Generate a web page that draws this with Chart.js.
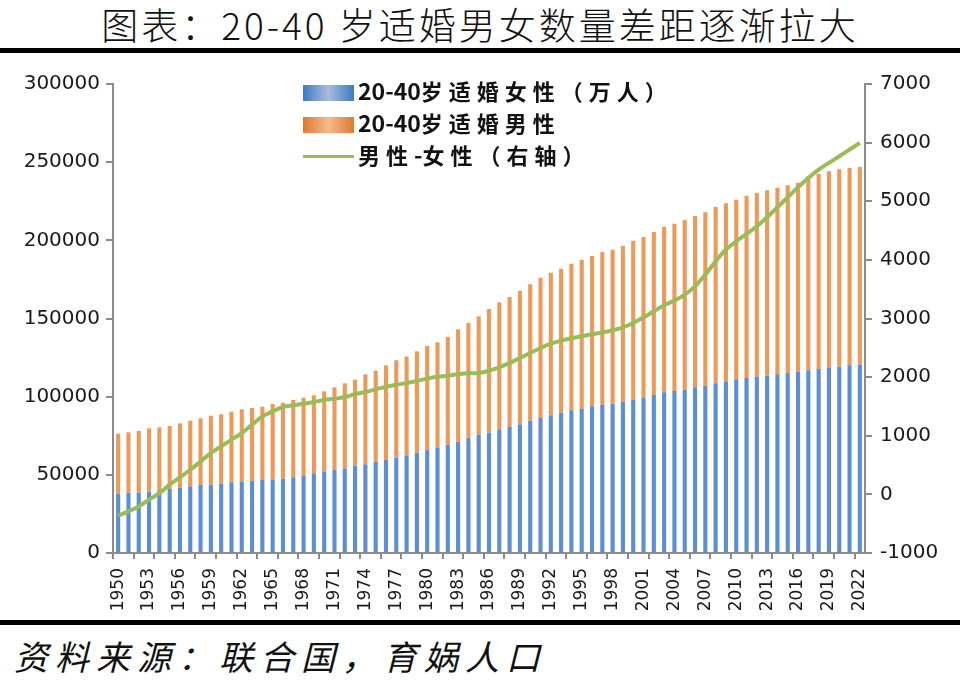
<!DOCTYPE html>
<html>
<head>
<meta charset="utf-8">
<script src="https://cdn.jsdelivr.net/npm/chart.js@4"></script>
<style>
  body { margin: 0; background: #fff; width: 960px; height: 683px; position: relative; overflow: hidden; }
  #title { position: absolute; left: 0; top: 2px; width: 960px; text-align: center; font-family: "Noto Sans CJK SC"; font-weight: 300; font-size: 37px; letter-spacing: 3px; color: #111; line-height: 44px; }
  .rule { position: absolute; left: 0; width: 960px; height: 5px; background: #000; }
  #source { position: absolute; left: 14px; top: 636px; font-family: "Noto Sans CJK SC"; font-style: italic; font-size: 34px; letter-spacing: 7px; color: #111; line-height: 40px; }
  #box { position: absolute; left: 0; top: 64px; }
  .lg { position: absolute; left: 303px; font-family: "Noto Sans CJK SC"; font-weight: bold; font-size: 22px; letter-spacing: 6px; color: #111; line-height: 24px; }
  .lg span.sw { position: absolute; left: 0; width: 51px; }
  .lg span.tx { position: absolute; left: 55px; white-space: nowrap; }
  .lg b { font-weight: bold; letter-spacing: 0; font-size: 23px; }
</style>
</head>
<body>
<div id="title">图表：20-40 岁适婚男女数量差距逐渐拉大</div>
<div class="rule" style="top:48px"></div>
<div id="box"><canvas id="chart" width="960" height="553"></canvas></div>
<div class="lg" style="top:78px"><span class="sw" style="top:7px;height:16px;background:linear-gradient(to right,#3c7bc6,#a9bdd7 50%,#3c7bc6)"></span><span class="tx"><b>20-40</b>岁适婚女性（万人）</span></div>
<div class="lg" style="top:110px"><span class="sw" style="top:7px;height:16px;background:linear-gradient(to right,#df7a30,#f4bb8c 50%,#df7a30)"></span><span class="tx"><b>20-40</b>岁适婚男性</span></div>
<div class="lg" style="top:142px"><span class="sw" style="top:13px;height:3px;background:#9bbb59"></span><span class="tx">男性<b>-</b>女性（右轴）</span></div>
<div class="rule" style="top:620px"></div>
<div id="source">资料来源：联合国，育娲人口</div>
<script>
// categories
const years = ['1950','1951','1952','1953','1954','1955','1956','1957','1958','1959',
  '1960','1961','1962','1963','1964','1965','1966','1967','1968','1969',
  '1970','1971','1972','1973','1974','1975','1976','1977','1978','1979',
  '1980','1981','1982','1983','1984','1985','1986','1987','1988','1989',
  '1990','1991','1992','1993','1994','1995','1996','1997','1998','1999',
  '2000','2001','2002','2003','2004','2005','2006','2007','2008','2009',
  '2010','2011','2012','2013','2014','2015','2016','2017','2018','2019',
  '2020','2021','2022'];

// 20-40岁适婚女性
const female = [37950,38380,38500,39230,40080,40930,41790,42640,43490,43700,
  44350,45200,45840,46050,46690,46800,47540,48400,49250,50950,
  51810,53300,54150,55860,56700,58300,59600,60900,62500,64200,
  65800,67500,69100,71100,73600,75700,77000,79100,80800,82300,
  84640,86350,88050,89760,91250,92100,93810,94660,95510,96600,
  97860,99350,101060,102760,103620,104470,105960,106810,108520,109370,
  111080,111930,112570,113420,114280,115130,115980,116830,117690,118330,
  119180,120030,120500];

// 20-40岁适婚男性
const male = [38380,38800,39530,40510,40300,40300,41140,42000,42640,44140,
  44340,45200,46050,46690,46910,48500,48610,49460,50100,49890,
  51590,52660,54370,55010,57580,58400,60430,62400,63200,64790,
  66600,67240,69050,71960,73510,75670,79100,81230,82940,85490,
  87200,89750,91250,92100,93810,95510,96150,97860,98500,99760,
  101910,102760,104250,105960,107020,108520,109590,111080,112780,114280,
  114910,116620,117690,118540,119390,120030,120880,124090,124930,125780,
  126220,126220,126390];

// 男性-女性 (右轴)
const diff = [-360,-290,-205,-90,20,165,290,420,560,705,
  820,935,1045,1190,1330,1415,1490,1520,1545,1575,
  1610,1630,1660,1710,1745,1790,1835,1870,1900,1935,
  1975,2005,2025,2050,2068,2070,2110,2167,2241,2326,
  2411,2497,2571,2622,2662,2696,2730,2760,2800,2850,
  2924,3020,3123,3225,3305,3407,3549,3749,3976,4176,
  4317,4442,4573,4727,4898,5068,5239,5398,5541,5654,
  5768,5882,5995];

const leftTicks = { min: 0, max: 300000, step: 50000 };
const rightTicks = { min: -1000, max: 7000, step: 1000 };

const axisGray = '#8c8c8c';
const labelColor = '#1a1a1a';
const tickFont = 'DejaVu Sans';

new Chart(document.getElementById('chart').getContext('2d'), {
  type: 'bar',
  data: {
    labels: years,
    datasets: [
      { label: '20-40岁适婚女性（万人）', data: female, backgroundColor: '#5b8fd1', yAxisID: 'y', stack: 'pop',
        barPercentage: 0.4, categoryPercentage: 1, order: 2 },
      { label: '20-40岁适婚男性', data: male, backgroundColor: '#ec9a5a', yAxisID: 'y', stack: 'pop',
        barPercentage: 0.4, categoryPercentage: 1, order: 2 },
      { type: 'line', label: '男性-女性（右轴）', data: diff, yAxisID: 'y1', borderColor: '#9bbb59',
        borderWidth: 4, pointRadius: 0, tension: 0.4, fill: false, order: 0 }
    ]
  },
  options: {
    responsive: false,
    animation: false,
    devicePixelRatio: 1,
    layout: { padding: { top: 14, left: 0, right: 0, bottom: 0 } },
    plugins: { legend: { display: false }, tooltip: { enabled: false } },
    scales: {
      x: {
        stacked: true,
        offset: true,
        grid: {
          offset: true, drawOnChartArea: false, drawTicks: true, tickLength: 6, lineWidth: 2,
          color: c => c.index % 2 === 0 ? axisGray : 'rgba(0,0,0,0)',
          tickColor: c => c.index % 2 === 0 ? axisGray : 'rgba(0,0,0,0)'
        },
        border: { color: axisGray, width: 2 },
        ticks: {
          autoSkip: false, maxRotation: 90, minRotation: 90, padding: 9, color: labelColor,
          font: { family: tickFont, size: 17 },
          callback: (v, i) => i % 3 === 0 ? years[i] : ''
        },
        afterFit: s => { s.height = 64; }
      },
      y: {
        stacked: true,
        position: 'left',
        min: leftTicks.min, max: leftTicks.max,
        grid: { drawOnChartArea: false, tickLength: 7, lineWidth: 2, color: axisGray },
        border: { color: axisGray, width: 2 },
        ticks: { stepSize: leftTicks.step, padding: 6, color: labelColor, font: { family: tickFont, size: 20 },
          callback: v => String(v) },
        afterFit: s => { s.width = 113; }
      },
      y1: {
        position: 'right',
        min: rightTicks.min, max: rightTicks.max,
        grid: { drawOnChartArea: false, tickLength: 7, lineWidth: 2, color: axisGray },
        border: { color: axisGray, width: 2 },
        ticks: { stepSize: rightTicks.step, padding: 8, color: labelColor, font: { family: tickFont, size: 20 },
          callback: v => String(v) },
        afterFit: s => { s.width = 95; }
      }
    }
  }
});
</script>
</body>
</html>
